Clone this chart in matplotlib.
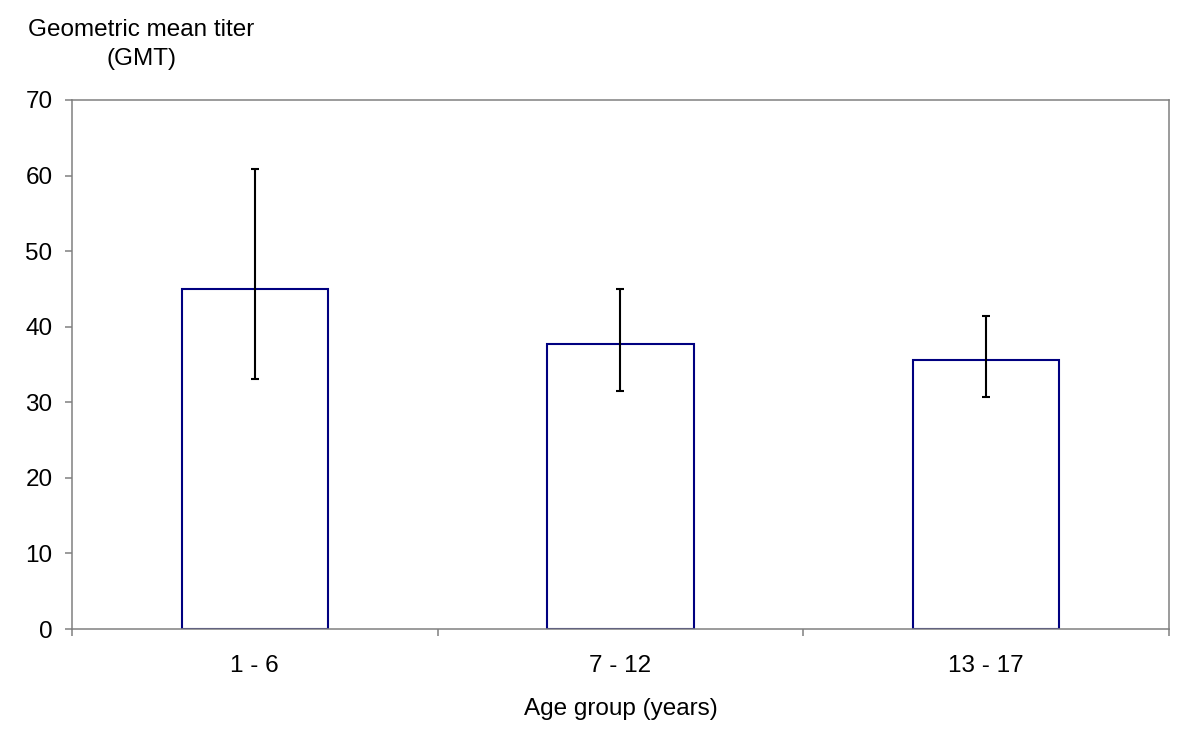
import matplotlib
matplotlib.use("Agg")
import matplotlib.pyplot as plt
import numpy as np

plt.rcParams['font.family'] = ['Liberation Sans', 'DejaVu Sans']

categories = ["1 - 6", "7 - 12", "13 - 17"]
gmt = [45.0, 37.7, 35.6]
ci_lower = [33.1, 31.5, 30.7]
ci_upper = [60.9, 45.0, 41.4]
y_ticks = [0, 10, 20, 30, 40, 50, 60, 70]

FS = 17.5

fig = plt.figure(figsize=(12, 7.32), dpi=100)
ax = fig.add_axes([0.06, 0.1407, 0.914, 0.7227])

x = np.arange(len(categories))
yerr = [np.array(gmt) - np.array(ci_lower), np.array(ci_upper) - np.array(gmt)]
ax.bar(x, gmt, width=0.4, facecolor='white', edgecolor='#000080', linewidth=1.5, zorder=2)
ax.errorbar(x, gmt, yerr=yerr, fmt='none', ecolor='black', elinewidth=1.5,
            capsize=3, capthick=1.5, zorder=3)

ax.set_xlim(-0.5, 2.5)
ax.set_ylim(0, 70)
ax.set_yticks(y_ticks)
ax.set_xticks(x)
ax.set_xticklabels(categories)
ax.set_xticks([-0.5, 0.5, 1.5, 2.5], minor=True)

for s in ax.spines.values():
    s.set_color('#808080')
    s.set_linewidth(1.1)

ax.tick_params(axis='y', direction='out', length=5, width=1.1, color='#808080',
               labelsize=FS, pad=9)
ax.tick_params(axis='x', which='major', length=0, labelsize=FS, pad=19)
ax.tick_params(axis='x', which='minor', direction='out', length=5, width=1.1, color='#808080')

ax.set_xlabel("Age group (years)", fontsize=FS, labelpad=15)

fig.text(141/1200, 1 - 30/732, "Geometric mean titer", ha='center', va='center', fontsize=FS)
fig.text(141/1200, 1 - 59/732, "(GMT)", ha='center', va='center', fontsize=FS)

fig.savefig("out.png", dpi=100)
